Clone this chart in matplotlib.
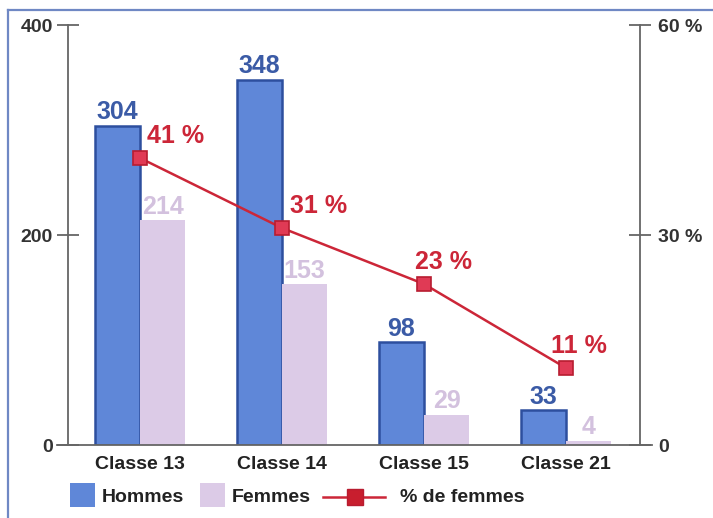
import matplotlib.pyplot as plt
import numpy as np
from matplotlib.patches import Rectangle
from matplotlib.lines import Line2D

# Effectifs par classe
categories = ['Classe 13', 'Classe 14', 'Classe 15', 'Classe 21']
hommes = [304, 348, 98, 33]
femmes = [214, 153, 29, 4]
pct_femmes = [41, 31, 23, 11]

left_ticks = [0, 200, 400]
right_ticks = [0, 30, 60]
right_tick_labels = ['0', '30 %', '60 %']

plt.rcParams['font.family'] = ['Liberation Sans', 'DejaVu Sans']
plt.rcParams['font.weight'] = 'bold'

c_hommes = '#5f87d8'
c_hommes_edge = '#2d4f9e'
c_hommes_txt = '#3b5ba6'
c_femmes = '#dccbe7'
c_femmes_txt = '#d3c1de'
c_red = '#cc2638'
c_axis = '#666666'

W, H = 713, 518
fig = plt.figure(figsize=(W / 100, H / 100), dpi=100)
ax = fig.add_axes([68 / W, 1 - 445 / H, (640 - 68) / W, (445 - 25) / H])

x = np.arange(len(categories))
w = 0.32

ax.bar(x - w / 2, hommes, width=w, color=c_hommes, edgecolor=c_hommes_edge, linewidth=1.8, zorder=2)
ax.bar(x + w / 2, femmes, width=w, color=c_femmes, edgecolor='none', zorder=2)

for xi, v in zip(x, hommes):
    ax.annotate(str(v), (xi - w / 2, v), xytext=(0, 1), textcoords='offset points',
                ha='center', va='bottom', fontsize=18, fontweight='bold', color=c_hommes_txt)
for xi, v in zip(x, femmes):
    ax.annotate(str(v), (xi + w / 2, v), xytext=(0, 1), textcoords='offset points',
                ha='center', va='bottom', fontsize=18, fontweight='bold', color=c_femmes_txt)

ax.set_xlim(-0.507, 3.521)
ax.set_ylim(0, 400)
ax.set_yticks(left_ticks)
ax.set_yticklabels([str(t) for t in left_ticks])
ax.set_xticks(x)
ax.set_xticklabels(categories, fontsize=14, fontweight='bold', color='#222222')
ax.tick_params(axis='x', length=0, pad=8)
ax.tick_params(axis='y', direction='inout', length=16, width=1.3, color=c_axis,
               labelsize=14, labelcolor='#333333', pad=3)

for s in ['top', 'right', 'bottom']:
    ax.spines[s].set_visible(False)
ax.spines['left'].set_color(c_axis)
ax.spines['left'].set_linewidth(1.3)

# ligne de base qui déborde des deux axes
ax.axhline(0, xmin=-0.019, xmax=1.021, color=c_axis, lw=1.3, clip_on=False, zorder=3)

ax2 = ax.twinx()
ax2.set_ylim(0, 60)
ax2.set_yticks(right_ticks)
ax2.set_yticklabels(right_tick_labels)
ax2.tick_params(axis='y', direction='inout', length=16, width=1.3, color=c_axis,
                labelsize=14, labelcolor='#333333', pad=5)
for s in ['top', 'left', 'bottom']:
    ax2.spines[s].set_visible(False)
ax2.spines['right'].set_color(c_axis)
ax2.spines['right'].set_linewidth(1.3)

ax2.plot(x, pct_femmes, color=c_red, lw=1.8, marker='s', markersize=10,
         markerfacecolor='#e03a55', markeredgecolor='#b81c30', markeredgewidth=1.2, zorder=4)

pct_dx = [5, 6, -6.5, -11]
for xi, p, dx in zip(x, pct_femmes, pct_dx):
    ax2.annotate(f'{p} %', (xi, p), xytext=(dx, 7), textcoords='offset points',
                 ha='left', va='bottom', fontsize=18, fontweight='bold', color=c_red)

# légende manuelle en bas
def px(xp, yp):
    return xp / W, 1 - yp / H

fig.add_artist(Rectangle(px(70, 507), 25 / W, 24 / H, transform=fig.transFigure,
                         color=c_hommes, lw=0))
fig.text(*px(102, 497), 'Hommes', fontsize=14, fontweight='bold', va='center', color='#222222')
fig.add_artist(Rectangle(px(200, 507), 25 / W, 24 / H, transform=fig.transFigure,
                         color=c_femmes, lw=0))
fig.text(*px(232, 497), 'Femmes', fontsize=14, fontweight='bold', va='center', color='#222222')
fig.add_artist(Line2D([323 / W, 385 / W], [1 - 497 / H] * 2, transform=fig.transFigure,
                      color=c_red, lw=1.8))
fig.add_artist(Line2D([355 / W], [1 - 497 / H], transform=fig.transFigure, marker='s',
                      markersize=11, markerfacecolor='#c81e2e', markeredgecolor='#b81c30'))
fig.text(*px(400, 497), '% de femmes', fontsize=14, fontweight='bold', va='center', color='#222222')

# cadre bleu
fig.add_artist(Line2D([8 / W, 8 / W], [0, 1 - 10 / H], transform=fig.transFigure,
                      color='#6f88c4', lw=1.6))
fig.add_artist(Line2D([8 / W, 1], [1 - 10 / H] * 2, transform=fig.transFigure,
                      color='#6f88c4', lw=1.6))

fig.savefig('out.png', dpi=100)
